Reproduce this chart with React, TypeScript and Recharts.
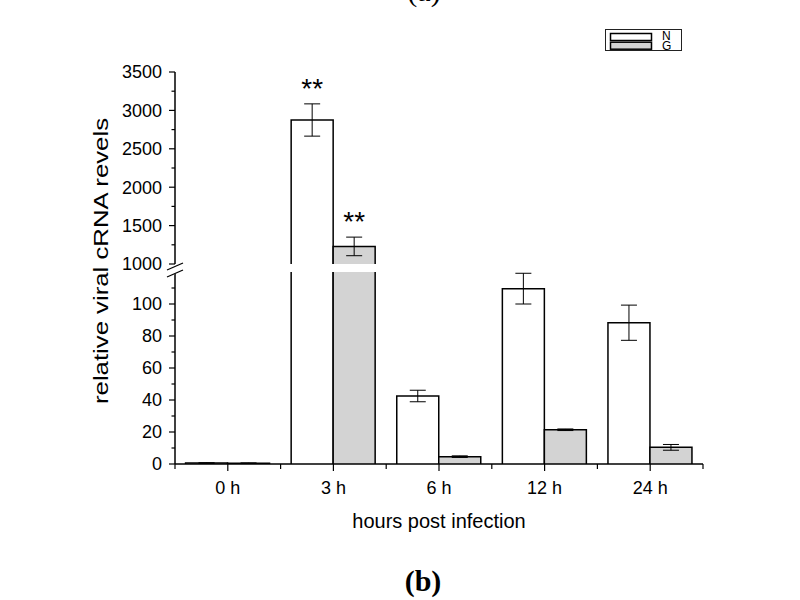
import React from "react";
import { BarChart, Bar, XAxis, YAxis, ErrorBar, LabelList, Legend } from "recharts";

const categories = ["0 h", "3 h", "6 h", "12 h", "24 h"];
const seriesNames = ["N", "G"];
const nValues = [0.6, 2875, 42.5, 109.6, 88.3];
const nErrors = [0.2, 210, 3.6, 9.6, 11];
const gValues = [0.5, 1229, 4.6, 21.4, 10.4];
const gErrors = [0.2, 121, 0.5, 0.5, 1.8];
const nStars = ["", "**", "", "", ""];
const gStars = ["", "**", "", "", ""];

const upperTicks = [1000, 1250, 1500, 1750, 2000, 2250, 2500, 2750, 3000, 3250, 3500];
const upperLabels = [1000, 1500, 2000, 2500, 3000, 3500];
const lowerTicks = [0, 10, 20, 30, 40, 50, 60, 70, 80, 90, 100, 110];
const lowerLabels = [0, 20, 40, 60, 80, 100];

const UPPER_MIN = 1000;
const UPPER_MAX = 3500;
const LOWER_MAX = 120;

// layout
const W = 800;
const H = 600;
const PLOT_LEFT = 175;
const PLOT_RIGHT = 703;
const UPPER_TOP = 72;
const UPPER_BOTTOM = 264;
const LOWER_TOP = 272;
const LOWER_BOTTOM = 464;
const Y_AXIS_W = 70;
const X_AXIS_H = 30;
const BAND = (PLOT_RIGHT - PLOT_LEFT) / categories.length;
const FONT = "'Liberation Sans', Arial, sans-serif";
const G_FILL = "#d3d3d3";

const upperData = categories.map((c, i) => ({
  cat: c,
  n: nValues[i] > UPPER_MIN ? nValues[i] : null,
  nErr: nValues[i] > UPPER_MIN ? nErrors[i] : 0,
  g: gValues[i] > UPPER_MIN ? gValues[i] : null,
  gErr: gValues[i] > UPPER_MIN ? gErrors[i] : 0,
  nStar: nStars[i],
  gStar: gStars[i],
}));

const lowerData = categories.map((c, i) => ({
  cat: c,
  n: nValues[i],
  nErr: nValues[i] > LOWER_MAX ? 0 : nErrors[i],
  g: gValues[i],
  gErr: gValues[i] > LOWER_MAX ? 0 : gErrors[i],
}));

const OpenBar = (props: any) => {
  const { x, y, width, height, fill } = props;
  if (![x, y, width, height].every((v) => Number.isFinite(v))) return null;
  return (
    <g>
      <rect x={x} y={y} width={width} height={height} fill={fill} />
      <path
        d={`M${x},${y + height}V${y}H${x + width}V${y + height}`}
        fill="none"
        stroke="#000"
        strokeWidth={1.5}
      />
    </g>
  );
};

const makeYTick = (labels: number[]) => (props: any) => {
  const { y, payload } = props;
  const major = labels.includes(payload.value);
  return (
    <g>
      <line x1={PLOT_LEFT - (major ? 6 : 3.5)} x2={PLOT_LEFT} y1={y} y2={y} stroke="#000" strokeWidth={1.2} />
      {major && (
        <text x={PLOT_LEFT - 13} y={y} dy="0.36em" textAnchor="end" fontSize={18} fontFamily={FONT} fill="#000">
          {payload.value}
        </text>
      )}
    </g>
  );
};

const XTick = (props: any) => {
  const { x, payload, index } = props;
  const half = BAND / 2;
  return (
    <g stroke="#000" strokeWidth={1.2}>
      <line x1={x} x2={x} y1={LOWER_BOTTOM} y2={LOWER_BOTTOM + 7} />
      <line x1={x - half} x2={x - half} y1={LOWER_BOTTOM} y2={LOWER_BOTTOM + 5} />
      {index === categories.length - 1 && (
        <line x1={x + half} x2={x + half} y1={LOWER_BOTTOM} y2={LOWER_BOTTOM + 5} />
      )}
      <text x={x} y={LOWER_BOTTOM + 24} dy="0.36em" textAnchor="middle" fontSize={18} fontFamily={FONT} fill="#000" stroke="none">
        {payload.value}
      </text>
    </g>
  );
};

// star sits a little above the error bar cap of its bar
const makeStar = (errors: number[]) => (props: any) => {
  const { x, y, width, value } = props;
  if (!value || !Number.isFinite(y)) return null;
  const cat = Math.floor((x + width / 2 - PLOT_LEFT) / BAND);
  const k = (UPPER_BOTTOM - UPPER_TOP) / (UPPER_MAX - UPPER_MIN);
  const errTop = y - (errors[cat] || 0) * k;
  return (
    <text x={x + width / 2} y={errTop - 6} textAnchor="middle" fontSize={28} fontFamily={FONT} fill="#000">
      {value}
    </text>
  );
};

const LegendBox = (props: any) => {
  const items = props.payload || [];
  const ordered = seriesNames
    .map((name) => items.find((it: any) => it.value === name))
    .filter(Boolean);
  return (
    <svg width={80} height={24} style={{ display: "block", overflow: "visible" }}>
      <rect x={0.5} y={0.5} width={76} height={21} fill="#fff" stroke="#222" strokeWidth={1} />
      {ordered.map((it: any, i: number) => (
        <g key={it.value}>
          <rect x={5.5} y={4.5 + i * 8.7} width={41} height={7} fill={it.color} stroke="#000" strokeWidth={1.5} />
          <text x={57} y={7 + i * 9.8} dy="0.36em" fontSize={12} fontFamily={FONT} fill="#000">
            {it.value}
          </text>
        </g>
      ))}
    </svg>
  );
};

export default function App() {
  const layer: React.CSSProperties = { position: "absolute", left: 0, top: 0 };
  return (
    <div style={{ position: "absolute", left: 0, top: 0, width: W, height: H, background: "#fff" }}>
      <div style={layer}>
        <BarChart
          width={W}
          height={H}
          data={upperData}
          barCategoryGap="10%"
          barGap={0}
          margin={{ top: UPPER_TOP, right: W - PLOT_RIGHT, bottom: H - UPPER_BOTTOM, left: PLOT_LEFT - Y_AXIS_W }}
        >
          <XAxis dataKey="cat" hide />
          <YAxis
            domain={[UPPER_MIN, UPPER_MAX]}
            ticks={upperTicks}
            interval={0}
            allowDataOverflow
            width={Y_AXIS_W}
            tickLine={false}
            tick={makeYTick(upperLabels)}
            axisLine={{ stroke: "#000", strokeWidth: 1.5 }}
          />
          <Legend
            layout="horizontal"
            verticalAlign="middle"
            align="center"
            content={<LegendBox />}
            wrapperStyle={{ position: "absolute", left: 605, top: 29, width: 80, height: 24 }}
          />
          <Bar dataKey="n" name="N" fill="#ffffff" shape={<OpenBar />} isAnimationActive={false}>
            <ErrorBar dataKey="nErr" width={8} stroke="#000" strokeWidth={1} direction="y" />
            <LabelList dataKey="nStar" content={makeStar(nErrors)} />
          </Bar>
          <Bar dataKey="g" name="G" fill={G_FILL} shape={<OpenBar />} isAnimationActive={false}>
            <ErrorBar dataKey="gErr" width={8} stroke="#000" strokeWidth={1} direction="y" />
            <LabelList dataKey="gStar" content={makeStar(gErrors)} />
          </Bar>
        </BarChart>
      </div>
      <div style={layer}>
        <BarChart
          width={W}
          height={H}
          data={lowerData}
          barCategoryGap="10%"
          barGap={0}
          margin={{ top: LOWER_TOP, right: W - PLOT_RIGHT, bottom: H - LOWER_BOTTOM - X_AXIS_H, left: PLOT_LEFT - Y_AXIS_W }}
        >
          <XAxis
            dataKey="cat"
            height={X_AXIS_H}
            interval={0}
            tickLine={false}
            tick={<XTick />}
            axisLine={{ stroke: "#000", strokeWidth: 1.5 }}
            label={{ value: "hours post infection", position: "bottom", offset: 20, fontSize: 20, fontFamily: FONT, fill: "#000" }}
          />
          <YAxis
            domain={[0, LOWER_MAX]}
            ticks={lowerTicks}
            interval={0}
            allowDataOverflow
            width={Y_AXIS_W}
            tickLine={false}
            tick={makeYTick(lowerLabels)}
            axisLine={{ stroke: "#000", strokeWidth: 1.5 }}
          />
          <Bar dataKey="n" name="N" fill="#ffffff" shape={<OpenBar />} isAnimationActive={false}>
            <ErrorBar dataKey="nErr" width={8} stroke="#000" strokeWidth={1} direction="y" />
          </Bar>
          <Bar dataKey="g" name="G" fill={G_FILL} shape={<OpenBar />} isAnimationActive={false}>
            <ErrorBar dataKey="gErr" width={8} stroke="#000" strokeWidth={1} direction="y" />
          </Bar>
        </BarChart>
      </div>
      <svg width={W} height={H} style={{ ...layer, pointerEvents: "none" }}>
        {/* axis break */}
        <polygon points="166,270 184,262 184,270 166,278" fill="#fff" />
        <line x1={167} y1={270} x2={183} y2={263} stroke="#000" strokeWidth={1.3} />
        <line x1={167} y1={277} x2={183} y2={270} stroke="#000" strokeWidth={1.3} />
        <text
          x={108}
          y={261}
          transform="rotate(-90, 108, 261)"
          textAnchor="middle"
          fontSize={21}
          fontFamily={FONT}
          textLength={286}
          lengthAdjust="spacingAndGlyphs"
          fill="#000"
        >
          relative viral cRNA revels
        </text>
        <text x={423} y={591} textAnchor="middle" fontSize={30} fontWeight="bold" fontFamily="'Liberation Serif', 'Times New Roman', serif" fill="#000">
          (b)
        </text>
        <text x={424} y={1} textAnchor="middle" fontSize={30} fontFamily="'Liberation Serif', 'Times New Roman', serif" fill="#000">
          (a)
        </text>
      </svg>
    </div>
  );
}
